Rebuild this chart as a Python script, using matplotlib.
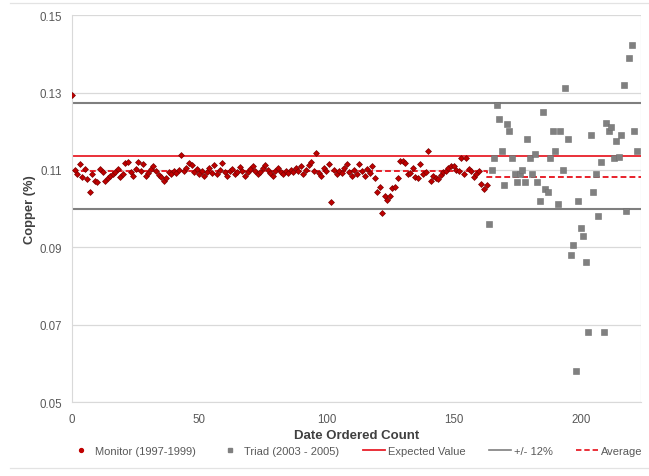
import matplotlib
matplotlib.use("Agg")
import matplotlib.pyplot as plt
from matplotlib.lines import Line2D

plt.rcParams["font.family"] = ["Liberation Sans", "DejaVu Sans"]

# Monitor series (1997-1999), one value per date-ordered count starting at 0
monitor_cu = [
    0.1295, 0.1100, 0.1089, 0.1115, 0.1081, 0.1102, 0.1076, 0.1043, 0.1089, 0.1072,
    0.1069, 0.1102, 0.1094, 0.1072, 0.1078, 0.1085, 0.1089, 0.1094, 0.1102, 0.1081,
    0.1090, 0.1118, 0.1121, 0.1094, 0.1085, 0.1102, 0.1121, 0.1097, 0.1115, 0.1085,
    0.1092, 0.1102, 0.1109, 0.1097, 0.1088, 0.1081, 0.1072, 0.1080, 0.1094, 0.1090,
    0.1097, 0.1092, 0.1100, 0.1138, 0.1097, 0.1105, 0.1119, 0.1112, 0.1094, 0.1102,
    0.1089, 0.1097, 0.1085, 0.1094, 0.1105, 0.1092, 0.1112, 0.1089, 0.1100, 0.1119,
    0.1094, 0.1085, 0.1097, 0.1102, 0.1089, 0.1094, 0.1107, 0.1097, 0.1085, 0.1094,
    0.1102, 0.1109, 0.1097, 0.1089, 0.1094, 0.1105, 0.1112, 0.1100, 0.1092, 0.1085,
    0.1097, 0.1105, 0.1094, 0.1089, 0.1097, 0.1092, 0.1100, 0.1094, 0.1105, 0.1097,
    0.1109, 0.1089, 0.1100, 0.1112, 0.1121, 0.1097, 0.1143, 0.1092, 0.1085, 0.1105,
    0.1097, 0.1115, 0.1018, 0.1100, 0.1089, 0.1097, 0.1092, 0.1105, 0.1115, 0.1094,
    0.1085, 0.1100, 0.1089, 0.1115, 0.1097, 0.1085, 0.1102, 0.1092, 0.1109, 0.1078,
    0.1043, 0.1056, 0.0990, 0.1033, 0.1023, 0.1033, 0.1053, 0.1057, 0.1078, 0.1124,
    0.1122, 0.1119, 0.1089, 0.1092, 0.1104, 0.1081, 0.1079, 0.1115, 0.1089, 0.1094,
    0.1148, 0.1072, 0.1085, 0.1080, 0.1076, 0.1088, 0.1094, 0.1097, 0.1106, 0.1111,
    0.1109, 0.1100, 0.1097, 0.1132, 0.1089, 0.1132, 0.1102, 0.1097, 0.1081, 0.1090,
    0.1097, 0.1063, 0.1050, 0.1060,
]
monitor_count = list(range(len(monitor_cu)))

# Triad series (2003 - 2005)
triad_count = list(range(164, 223))
triad_cu = [
    0.0960, 0.1100, 0.1130, 0.1268, 0.1231, 0.1149, 0.1061, 0.1220, 0.1200, 0.1130,
    0.1089, 0.1069, 0.1089, 0.1100, 0.1069, 0.1181, 0.1130, 0.1089, 0.1141, 0.1069,
    0.1020, 0.1251, 0.1050, 0.1042, 0.1130, 0.1200, 0.1149, 0.1012, 0.1200, 0.1099,
    0.1311, 0.1181, 0.0881, 0.0906, 0.0581, 0.1020, 0.0950, 0.0930, 0.0861, 0.0680,
    0.1190, 0.1042, 0.1089, 0.0980, 0.1121, 0.0680, 0.1221, 0.1200, 0.1211, 0.1130,
    0.1175, 0.1134, 0.1190, 0.1320, 0.0994, 0.1389, 0.1423, 0.1200, 0.1149,
]

expected_value = 0.1136
tolerance = 0.12
monitor_average = 0.1098
triad_average = 0.1083

x_ticks = [0, 50, 100, 150, 200]
y_ticks = [0.05, 0.07, 0.09, 0.11, 0.13, 0.15]

fig = plt.figure(figsize=(6.49, 4.77), dpi=100)
ax = fig.add_axes([0.111, 0.155, 0.877, 0.811])

x_max = 223.8
ax.set_xlim(0, x_max)
ax.set_ylim(0.05, 0.15)
ax.set_xticks(x_ticks)
ax.set_yticks(y_ticks)
ax.set_yticklabels([f"{v:.2f}" for v in y_ticks])

ax.grid(axis="y", color="#D9D9D9", linewidth=0.9, zorder=0)
ax.grid(axis="x", visible=False)
for side in ["top", "right"]:
    ax.spines[side].set_visible(False)
ax.spines["left"].set_color("#D9D9D9")
ax.spines["bottom"].set_color("#D9D9D9")
ax.axvline(x_max, color="#E3E3E3", linewidth=0.9, zorder=0)
ax.tick_params(axis="y", length=0, labelsize=8.3, labelcolor="#595959", pad=7)
ax.tick_params(axis="x", length=0, labelsize=8.3, labelcolor="#595959", pad=8)

grey = "#7F7F7F"
red = "#E8202A"

ax.axhline(expected_value * (1 + tolerance), color=grey, linewidth=1.5, zorder=2)
ax.axhline(expected_value * (1 - tolerance), color=grey, linewidth=1.5, zorder=2)
ax.axhline(expected_value, color=red, linewidth=1.3, zorder=2)

ax.plot([0, monitor_count[-1], monitor_count[-1], x_max],
        [monitor_average, monitor_average, triad_average, triad_average],
        color=red, linestyle=(0, (3, 1.6)), linewidth=1.4, zorder=2)

ax.plot(monitor_count, monitor_cu, linestyle="none", marker="D", markersize=3.0,
        color="#C00000", markeredgecolor="#7A0000", markeredgewidth=0.5, zorder=4)
ax.plot(triad_count, triad_cu, linestyle="none", marker="s", markersize=3.8,
        color="#808080", markeredgecolor="#707070", markeredgewidth=0.4, zorder=3)

ax.set_ylabel("Copper (%)", fontsize=9.3, fontweight="bold", color="#404040", labelpad=3)
ax.set_xlabel("Date Ordered Count", fontsize=9.5, fontweight="bold", color="#404040", labelpad=3)

handles = [
    Line2D([], [], linestyle="none", marker="o", markersize=2.8, color="#C00000"),
    Line2D([], [], linestyle="none", marker="s", markersize=3.2, color="#808080"),
    Line2D([], [], color=red, linewidth=1.3),
    Line2D([], [], color=grey, linewidth=1.2),
    Line2D([], [], color=red, linestyle=(0, (3, 1.6)), linewidth=1.3),
]
labels = ["Monitor (1997-1999)", "Triad (2003 - 2005)", "Expected Value", "+/- 12%", "Average"]
fig.legend(handles, labels, loc="center", bbox_to_anchor=(0.549, 0.052), ncol=5,
           frameon=False, fontsize=8, labelcolor="#595959", handlelength=2.0,
           handletextpad=0.25, columnspacing=2.1)

# thin chart-area frame lines
fig.add_artist(Line2D([0.015, 1.0], [0.991, 0.991], transform=fig.transFigure,
                      color="#E3E3E3", linewidth=0.9))
fig.add_artist(Line2D([0.015, 1.0], [0.017, 0.017], transform=fig.transFigure,
                      color="#E3E3E3", linewidth=0.9))

fig.savefig("out.png", dpi=100)
